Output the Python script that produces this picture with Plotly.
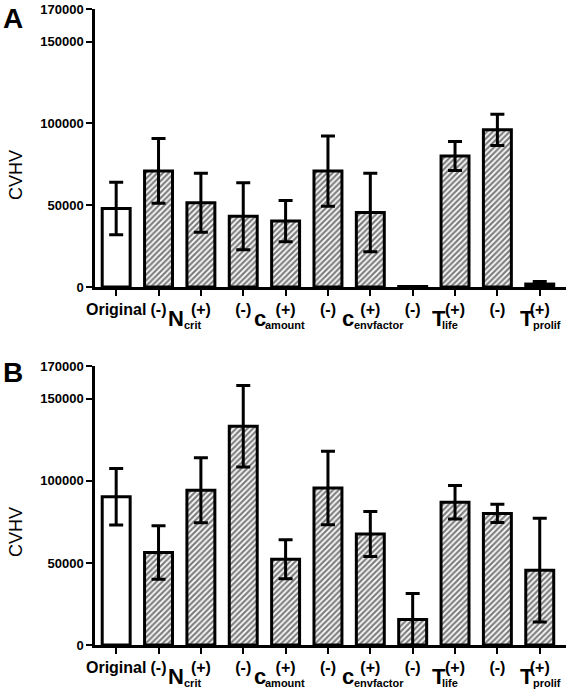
import plotly.graph_objects as go

# ---------------- data ----------------
categories = ["Original", "Ncrit(-)", "Ncrit(+)", "camount(-)", "camount(+)",
              "cenvfactor(-)", "cenvfactor(+)", "Tlife(-)", "Tlife(+)",
              "Tprolif(-)", "Tprolif(+)"]
tick_labels = ["Original", "(-)", "(+)", "(-)", "(+)", "(-)", "(+)",
               "(-)", "(+)", "(-)", "(+)"]

values_A = [48000, 71000, 51500, 43300, 40300, 70900, 45500, 300, 80100, 96100, 1800]
errors_A = [16000, 19800, 18000, 20500, 12600, 21500, 24000, 0, 8800, 9600, 1600]

values_B = [90300, 56400, 94300, 133300, 52200, 95700, 67600, 15600, 87000, 80200, 45600]
errors_B = [17200, 16300, 19800, 24800, 11900, 22400, 13700, 15800, 10200, 5600, 31600]

y_tick_vals = [0, 50000, 100000, 150000, 170000]
y_tick_text = ["0", "50000", "100000", "150000", "170000"]

group_letters = ["N", "c", "c", "T", "T"]
group_subs = ["crit", "amount", "envfactor", "life", "prolif"]

# ---------------- layout helpers ----------------
W, H = 566, 692
def px_x(p):
    return p / W
def px_y(p):
    return 1 - p / H

FONT = "Liberation Sans, Arial, sans-serif"
x_pos = list(range(len(categories)))
pattern_shapes = ["" if c == "Original" else "/" for c in categories]

fig = go.Figure()

for vals, errs, xa, ya in [(values_A, errors_A, "x", "y"), (values_B, errors_B, "x2", "y2")]:
    fig.add_trace(go.Bar(
        x=x_pos, y=vals, xaxis=xa, yaxis=ya,
        width=0.66,
        marker=dict(
            color="white",
            line=dict(color="black", width=3),
            pattern=dict(shape=pattern_shapes, fgcolor="black", bgcolor="white",
                         size=4, solidity=0.55, fillmode="overlay"),
        ),
        error_y=dict(type="data", array=errs, visible=True, color="black",
                     thickness=3, width=7),
        showlegend=False,
        hoverinfo="skip",
    ))

xaxis_common = dict(
    range=[-0.5, 10.62], showline=True, linecolor="black", linewidth=2.5,
    ticks="outside", ticklen=6, tickwidth=2, tickcolor="black",
    tickvals=x_pos, ticktext=tick_labels,
    tickfont=dict(family=FONT, size=16, color="black", weight="bold"),
    showgrid=False, zeroline=False, fixedrange=True, automargin=False,
    domain=[px_x(95), 1.0],
)
yaxis_common = dict(
    range=[0, 170000], showline=True, linecolor="black", linewidth=2.5,
    ticks="outside", ticklen=6, tickwidth=2, tickcolor="black",
    tickvals=y_tick_vals, ticktext=y_tick_text,
    tickfont=dict(family=FONT, size=13, color="black", weight="bold"),
    showgrid=False, zeroline=False, automargin=False, fixedrange=True,
)

fig.update_layout(
    width=W, height=H,
    margin=dict(l=0, r=0, t=0, b=0, pad=0, autoexpand=False),
    paper_bgcolor="white", plot_bgcolor="white",
    bargap=0.3,
    xaxis=dict(**xaxis_common, anchor="y"),
    yaxis=dict(**yaxis_common, anchor="x", domain=[px_y(287), px_y(9)]),
    xaxis2=dict(**xaxis_common, anchor="y2"),
    yaxis2=dict(**yaxis_common, anchor="x2", domain=[px_y(645), px_y(366)]),
)

annotations = []
# panel letters
for letter, cy in [("A", 18), ("B", 372)]:
    annotations.append(dict(text=letter, xref="paper", yref="paper",
                            x=px_x(13), y=px_y(cy), xanchor="center", yanchor="middle",
                            showarrow=False,
                            font=dict(family=FONT, size=28, color="black", weight="bold")))
# y titles
for cy in [175, 532]:
    annotations.append(dict(text="CVHV", xref="paper", yref="paper",
                            x=px_x(16), y=px_y(cy), xanchor="center", yanchor="middle",
                            textangle=-90, showarrow=False,
                            font=dict(family=FONT, size=18, color="black")))

# group labels (big letter + subscript), positions in axis units
letter_x = [1.18, 3.21, 5.28, 7.41, 9.48]
sub_x = [1.56, 3.47, 5.57, 7.64, 9.80]
for xa, zero_px in [("x", 287), ("x2", 645)]:
    for L, S, lx, sx in zip(group_letters, group_subs, letter_x, sub_x):
        annotations.append(dict(text=L, xref=xa, yref="paper", x=lx, y=px_y(zero_px + 31),
                                xanchor="left", yanchor="middle", showarrow=False,
                                font=dict(family=FONT, size=22, color="black", weight="bold")))
        annotations.append(dict(text=S, xref=xa, yref="paper", x=sx, y=px_y(zero_px + 38),
                                xanchor="left", yanchor="middle", showarrow=False,
                                font=dict(family=FONT, size=11, color="black", weight="bold")))

fig.update_layout(annotations=annotations)
# remove the default page margin so the figure sits at the window's top-left corner
fig.write_html("out.html", config={"displayModeBar": False},
               post_script="document.body.style.margin='0';")
